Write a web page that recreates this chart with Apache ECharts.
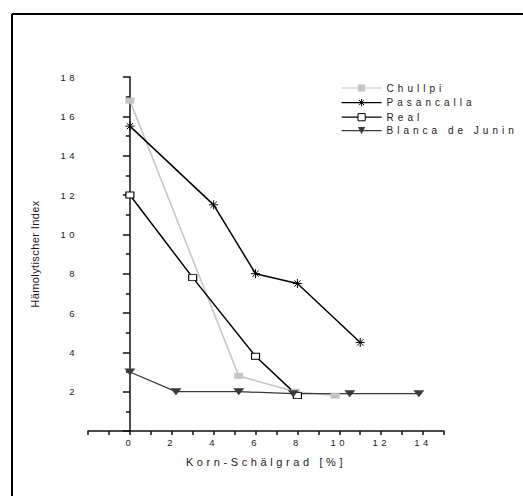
<!DOCTYPE html>
<html>
<head>
<meta charset="utf-8">
<script src="https://cdn.jsdelivr.net/npm/echarts@6/dist/echarts.min.js"></script>
<style>
  html, body { margin: 0; padding: 0; background: #fff; }
  #chart { width: 523px; height: 496px; }
  #chart text { letter-spacing: 3px; }
</style>
</head>
<body>
<div id="chart"></div>
<script>
// values
const chullpiX = [0, 5.2, 7.9, 9.8];
const chullpiY = [16.8, 2.8, 2.0, 1.8];
const pasancallaX = [0, 4, 6, 8, 11];
const pasancallaY = [15.5, 11.5, 8.0, 7.5, 4.5];
const realX = [0, 3, 6, 8];
const realY = [12.0, 7.8, 3.8, 1.8];
const blancaX = [0, 2.2, 5.2, 7.8, 10.5, 13.8];
const blancaY = [3.0, 2.0, 2.0, 1.9, 1.9, 1.9];

const xTickLabels = [0, 2, 4, 6, 8, 10, 12, 14];
const yTickLabels = [2, 4, 6, 8, 10, 12, 14, 16, 18];

const seriesNames = ["Chullpi", "Pasancalla", "Real", "Blanca de Junin"];
const xName = "Korn-Schälgrad [%]";
const yName = "Hämolytischer Index";

const FONT = "'Liberation Sans', Arial, sans-serif";
const INK = "#1a1a1a";
const ASTERISK = "path://M0,5L10,5M5,0L5,10M1.5,1.5L8.5,8.5M1.5,8.5L8.5,1.5";

function pairs(xs, ys) {
  return xs.map((x, i) => [x, ys[i]]);
}

const chart = echarts.init(document.getElementById("chart"), null, { renderer: "svg" });

const option = {
  animation: false,
  backgroundColor: "#fff",
  textStyle: { fontFamily: FONT },
  graphic: [
    { type: "line", shape: { x1: 12, y1: 14, x2: 523, y2: 14 }, style: { stroke: "#000", lineWidth: 2 } },
    { type: "line", shape: { x1: 12, y1: 14, x2: 12, y2: 496 }, style: { stroke: "#000", lineWidth: 2 } },
  ],
  grid: { left: 88, right: 79, top: 77, bottom: 65, containLabel: false, outerBoundsMode: "none" },
  legend: {
    orient: "vertical",
    left: 341,
    top: 83,
    padding: 0,
    itemWidth: 40,
    itemHeight: 9,
    itemGap: 3.5,
    lineStyle: { width: 1.2 },
    data: [
      { name: seriesNames[0] },
      { name: seriesNames[1], itemStyle: { color: "none", borderColor: "#000", borderWidth: 1 } },
      { name: seriesNames[2], itemStyle: { color: "#fff", borderColor: "#000", borderWidth: 1 } },
      { name: seriesNames[3] },
    ],
    textStyle: { fontSize: 10, color: INK, fontFamily: FONT },
  },
  xAxis: {
    type: "value",
    min: -2,
    max: 15,
    interval: 1,
    name: xName,
    nameLocation: "middle",
    nameGap: 25,
    nameTextStyle: { fontSize: 11, color: INK, fontFamily: FONT },
    splitLine: { show: false },
    axisLine: { lineStyle: { color: "#111", width: 1.5 } },
    axisTick: { length: 4, lineStyle: { color: "#111", width: 1.5 } },
    axisLabel: {
      fontSize: 9.5,
      color: INK,
      margin: 6,
      formatter: (v) => (xTickLabels.includes(v) ? String(v) : ""),
    },
  },
  yAxis: {
    type: "value",
    min: 0,
    max: 18,
    interval: 2,
    name: yName,
    nameLocation: "middle",
    nameGap: 48,
    nameTextStyle: { fontSize: 11, color: INK, fontFamily: FONT },
    splitLine: { show: false },
    axisLine: { lineStyle: { color: "#111", width: 1.5 } },
    axisTick: { length: 7, lineStyle: { color: "#111", width: 1.5 } },
    minorTick: { show: true, splitNumber: 2, length: 4, lineStyle: { color: "#111", width: 1.5 } },
    axisLabel: {
      fontSize: 9.5,
      color: INK,
      margin: 10,
      formatter: (v) => (yTickLabels.includes(v) ? String(v) : ""),
    },
  },
  series: [
    {
      name: seriesNames[0],
      type: "line",
      data: pairs(chullpiX, chullpiY),
      symbol: "rect",
      symbolSize: [9, 6],
      lineStyle: { color: "#c4c4c4", width: 1.5 },
      itemStyle: { color: "#c4c4c4" },
    },
    {
      name: seriesNames[1],
      type: "line",
      data: pairs(pasancallaX, pasancallaY),
      symbol: ASTERISK,
      symbolSize: [9, 9],
      lineStyle: { color: "#000", width: 1.5 },
      itemStyle: { color: "none", borderColor: "#000", borderWidth: 1 },
    },
    {
      name: seriesNames[2],
      type: "line",
      data: pairs(realX, realY),
      symbol: "rect",
      symbolSize: [8, 6],
      lineStyle: { color: "#000", width: 1.5 },
      itemStyle: { color: "#fff", borderColor: "#000", borderWidth: 1 },
    },
    {
      name: seriesNames[3],
      type: "line",
      data: pairs(blancaX, blancaY),
      symbol: "triangle",
      symbolRotate: 180,
      symbolSize: [11, 7],
      lineStyle: { color: "#3a3a3a", width: 1.3 },
      itemStyle: { color: "#3a3a3a" },
    },
  ],
};

chart.setOption(option);

// spread letters like the original figure (SVG text only)
function spaceText() {
  document.querySelectorAll("#chart text").forEach((t) => {
    const s = t.textContent;
    let ls = "3.5px";
    if (s === yName) ls = "0.4px";
    else if (s === xName) ls = "3.6px";
    else if (seriesNames.includes(s)) ls = "4px";
    t.style.letterSpacing = ls;
  });
}
spaceText();
chart.on("finished", spaceText);
</script>
</body>
</html>
